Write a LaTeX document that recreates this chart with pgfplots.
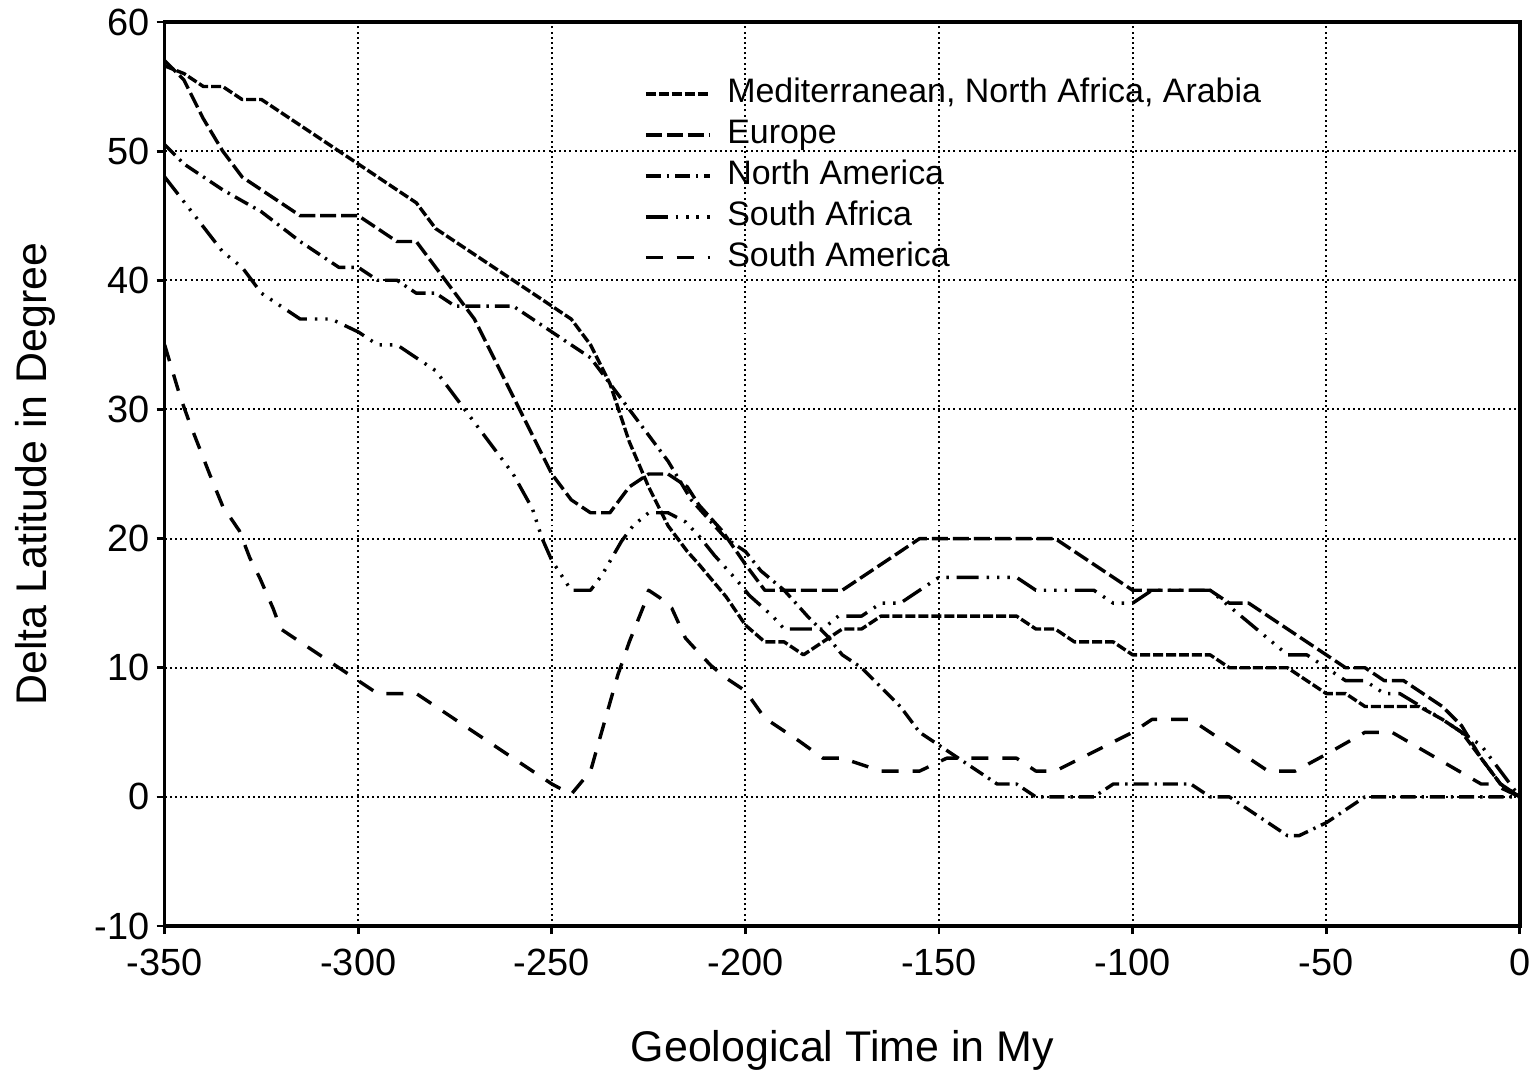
\documentclass[border=0pt]{standalone}
\usepackage{fontspec}
\setmainfont{Liberation Sans}
\usepackage{pgfplots}
\pgfplotsset{compat=1.18}

\begin{document}
\begin{tikzpicture}
\begin{axis}[
  scale only axis, width=679pt, height=453pt,
  xmin=-350, xmax=0, ymin=-10, ymax=60,
  xtick={-350,-300,...,0}, ytick={-10,0,...,60},
  tick align=outside, tick pos=left, major tick length=4pt,
  axis line style={line width=1.8pt},
  every tick/.style={line width=1.4pt, black},
  grid=major,
  grid style={black, line width=1pt, dash pattern=on 1pt off 1.6pt},
  /pgf/number format/assume math mode=true,
  ticklabel style={font=\fontsize{19}{22}\selectfont},
  xticklabel style={yshift=-4pt},
  xlabel={Geological Time in My},
  ylabel={Delta Latitude in Degree},
  label style={font=\fontsize{21.5}{25}\selectfont},
  xlabel style={at={(rel axis cs:0.5,-0.150)}, anchor=base},
  ylabel style={at={(rel axis cs:-0.087,0.5)}, anchor=base},
  legend style={draw=none, fill=none, at={(rel axis cs:0.3535,0.940)}, anchor=north west,
    font=\fontsize{17}{20}\selectfont, inner sep=0pt, row sep=3pt, column sep=7.5pt,
    nodes={inner sep=0.5pt, text height=12.5pt, text depth=4pt}},
  legend cell align=left,
  legend image code/.code={\draw[#1] (0pt,0pt) -- (32pt,0pt);},
  every axis plot/.append style={black, line width=1.7pt, line join=round},
]
\coordinate (bbl) at (rel axis cs:-0.1215,-0.1589);
\coordinate (btr) at (rel axis cs:1.0103,1.0243);

% Mediterranean, North Africa, Arabia
\addplot[dash pattern=on 5pt off 1.5pt] coordinates {
(-350,56.6) (-345,56) (-340,55) (-335,55) (-330,54) (-325,54) (-300,49) (-285,46) (-280,44)
(-250,38) (-245,37) (-240,35) (-235,32) (-230,27.5) (-225,24) (-220,21) (-215,19) (-212,18)
(-205,15.5) (-200,13.3) (-195,12) (-190,12) (-185,11) (-175,13) (-170,13) (-165,14) (-130,14)
(-125,13) (-120,13) (-115,12) (-105,12) (-100,11) (-80,11) (-75,10) (-60,10) (-50,8) (-45,8)
(-40,7) (-26,7) (-20,6) (-15,5) (-10,3) (-5,1) (0,0)};
\addlegendentry{Mediterranean, North Africa, Arabia}

% Europe
\addplot[dash pattern=on 8pt off 2.5pt] coordinates {
(-350,57) (-345,55.5) (-340,52.5) (-335,50) (-330,48) (-325,47) (-315,45) (-300,45) (-290,43)
(-285,43) (-280,41) (-275,39) (-270,37) (-265,34) (-260,31) (-255,28) (-250,25) (-245,23)
(-240,22) (-235,22) (-230,24) (-225,25) (-220,25) (-215,24) (-212,22.6) (-206,20.6) (-200,18)
(-195,16) (-175,16) (-155,20) (-120,20) (-100,16) (-80,16) (-75,15) (-70,15) (-50,11) (-45,10)
(-40,10) (-35,9) (-30,9) (-25,8) (-20,7) (-15,5.5) (-10,3) (-5,1) (0,0)};
\addlegendentry{Europe}

% North America
\addplot[dash pattern=on 7.5pt off 3pt on 1.2pt off 3pt] coordinates {
(-350,50.5) (-345,49) (-335,47) (-325,45.3) (-315,43) (-305,41) (-300,41) (-295,40) (-290,40)
(-285,39) (-280,39) (-275,38) (-260,38) (-250,36) (-245,35) (-240,34) (-235,32) (-230,30)
(-225,28) (-220,26) (-214,23) (-205,20) (-200,19) (-196,17.5) (-190,16) (-184,14) (-179,12.5)
(-175,11) (-170,10) (-165,8.5) (-160,7) (-155,5) (-150,4) (-145,3) (-140,2) (-135,1) (-130,1)
(-125,0) (-110,0) (-105,1) (-85,1) (-80,0) (-75,0) (-70,-1) (-60,-3) (-57,-3) (-50,-2) (-40,0) (0,0)};
\addlegendentry{North America}

% South Africa
\addplot[dash pattern=on 11pt off 4pt on 1.2pt off 4pt on 1.2pt off 4pt on 1.2pt off 4pt] coordinates {
(-350,48) (-343,45.3) (-335,42.2) (-330,41) (-325,39) (-315,37) (-307,37) (-300,36) (-295,35)
(-290,35) (-285,34) (-280,33) (-275,31) (-270,29) (-265,27) (-260,25) (-255,22.3) (-252.5,20)
(-250,18.3) (-245,16) (-240,16) (-237,17.2) (-232,19.8) (-229,21) (-225,22) (-220,22)
(-215.5,21.3) (-212,20.2) (-208,18.7) (-202,16.7) (-199,15.6) (-193,14) (-190,13) (-180,13)
(-176,14) (-170,14) (-165,15) (-160,15) (-155,16) (-150,17) (-130,17) (-125,16) (-110,16)
(-105,15) (-100,15) (-95,16) (-80,16) (-60,11) (-55,11) (-45,9) (-40,9) (-35,8) (-31,8)
(-20,6) (-15,5) (-10,4) (-5,2) (0,0)};
\addlegendentry{South Africa}

% South America
\addplot[dash pattern=on 8.5pt off 7pt] coordinates {
(-350,35) (-346,31) (-343.6,29) (-341,27) (-338.4,25) (-335,22.5) (-330.7,20.6) (-328,18.5)
(-325.5,17) (-322,14.6) (-320,13) (-313.5,11.7) (-300,9) (-295,8) (-285,8) (-250,1) (-245,0.2)
(-240,2) (-233,9.4) (-230,12) (-226,15) (-225,16) (-222,15.4) (-219,14.6) (-215.5,12.3)
(-214,11.8) (-209,10.2) (-205,9.2) (-200,8.2) (-195,6.1) (-186,4.3) (-180,3) (-175,3) (-165,2)
(-155,2) (-148,3) (-130,3) (-125,2) (-120,2) (-100,5) (-95,6) (-85,6) (-65,2) (-58,2) (-50,3.3)
(-40,5) (-33,5) (-10,1) (-7,1) (0,0)};
\addlegendentry{South America}
\end{axis}
\path (bbl) rectangle (btr);
\end{tikzpicture}
\end{document}
